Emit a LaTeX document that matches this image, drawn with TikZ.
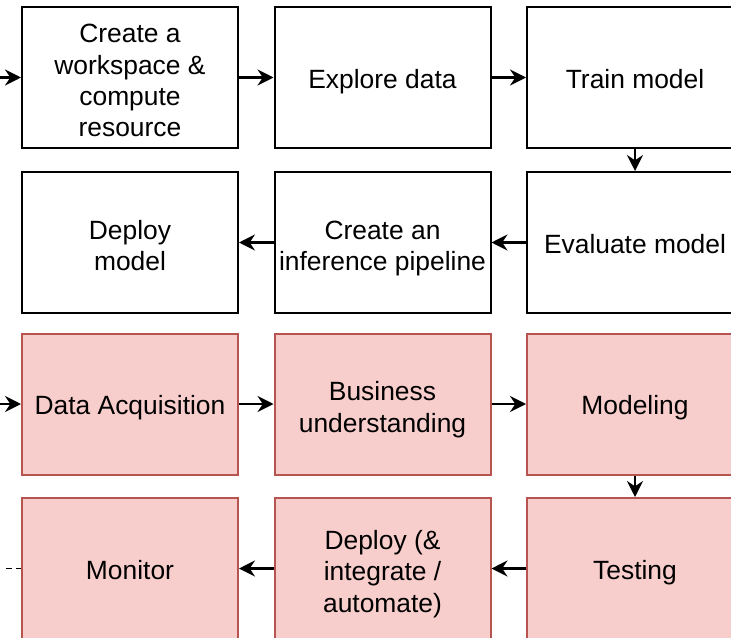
\documentclass[tikz,border=0pt]{standalone}
\usepackage{fontspec}
\setmainfont{Liberation Sans}
\usetikzlibrary{arrows.meta}

\definecolor{boxpink}{HTML}{F8CECC}
\definecolor{boxred}{HTML}{B85450}
% taller first line for boxes with several lines
\newcommand{\firstln}{\rule{0pt}{23pt}}

\begin{document}
\begin{tikzpicture}[x=0.75pt,y=0.75pt,yscale=-1,xscale=1,
  stepbox/.style={draw=black,line width=1.5pt,fill=white,minimum width=162pt,minimum height=105.75pt,
    inner sep=0pt,align=center,font=\fontsize{19.8}{23.5}\selectfont,
    execute at begin node={\rule{0pt}{20.5pt}},execute at end node={\rule[-4.5pt]{0pt}{4.5pt}}},
  redbox/.style={stepbox,draw=boxred,fill=boxpink},
  flow/.style={-{Stealth[length=12pt,width=12pt,inset=4pt]},line width=1.6pt},
  boldflow/.style={flow,line width=2.2pt}]
%set diagram size 731 x 638
\useasboundingbox (0,0) rectangle (731,638);

%Shape: first row (black)
\node[stepbox] (ws) at (130,77.5) {\firstln Create a\\workspace \&\\compute\\resource};
\node[stepbox] (explore) at (382.5,77.5) {Explore data};
\node[stepbox] (train) at (635,77.5) {Train model};

%Shape: second row (black)
\node[stepbox] (eval) at (635,242.5) {Evaluate model};
\node[stepbox] (pipe) at (382.5,242.5) {\firstln Create an\\inference pipeline};
\node[stepbox] (deploy) at (130,242.5) {\firstln Deploy\\model};

%Shape: third row (red)
\node[redbox] (acq) at (130,404) {Data Acquisition};
\node[redbox] (biz) at (382.5,404) {\firstln Business\\understanding};
\node[redbox] (modeling) at (635,404) {Modeling};

%Shape: fourth row (red)
\node[redbox] (testing) at (635,568.5) {Testing};
\node[redbox] (integ) at (382.5,568.5) {\firstln Deploy (\&\\integrate /\\automate)};
\node[redbox] (monitor) at (130,568.5) {Monitor};

%free line ends at the left edge
\coordinate (in1) at (0,77.5);
\coordinate (in2) at (0,404);
\coordinate (out) at (4,568.5);

%Straight Lines
\draw[boldflow] (in1) -- (ws.west);
\draw[boldflow] (ws) -- (explore);
\draw[boldflow] (explore) -- (train);
\draw[flow] (train) -- (eval);
\draw[flow] (eval) -- (pipe);
\draw[flow] (pipe) -- (deploy);

\draw[flow] (in2) -- (acq.west);
\draw[flow] (acq) -- (biz);
\draw[flow] (biz) -- (modeling);
\draw[flow] (modeling) -- (testing);
\draw[flow] (testing) -- (integ);
\draw[flow] (integ) -- (monitor);
\draw[line width=1.2pt,dash pattern=on 4pt off 3pt] (monitor.west) -- (out);

\end{tikzpicture}
\end{document}
